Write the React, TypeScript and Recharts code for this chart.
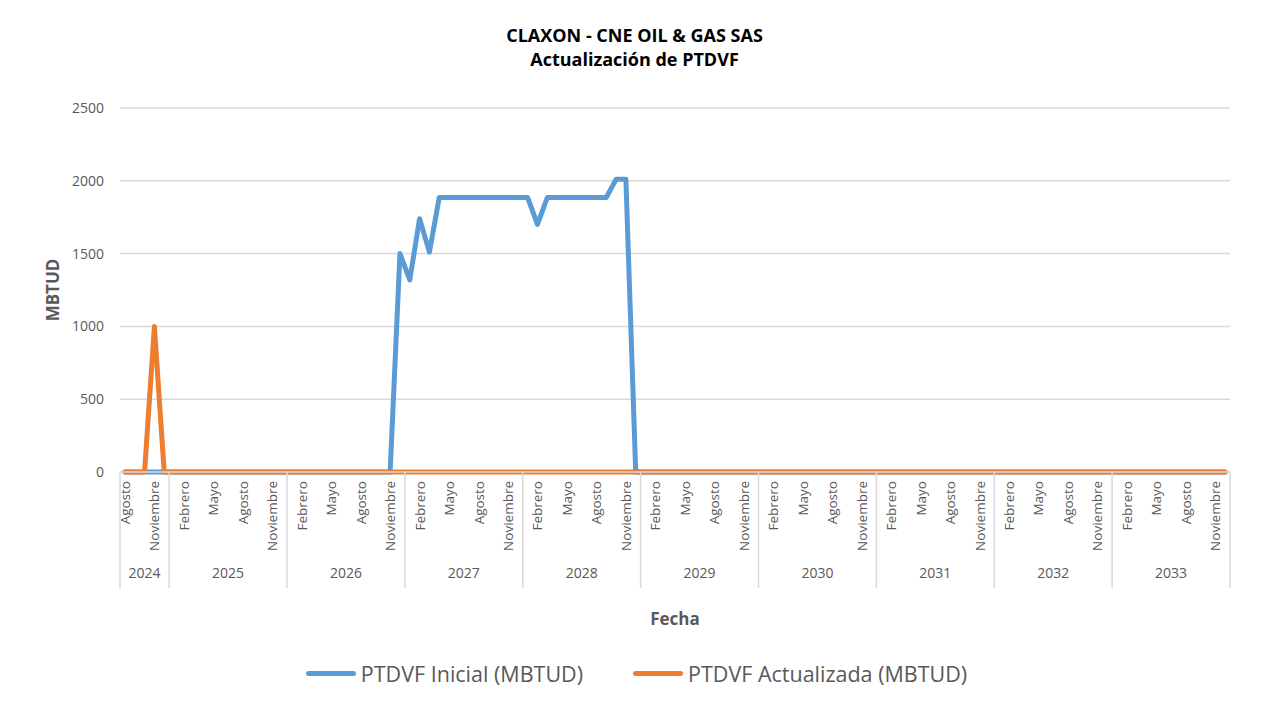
import { LineChart, Line, XAxis, YAxis, CartesianGrid } from 'recharts';

// Meses (en español) y años del eje X: agosto 2024 – diciembre 2033
const MONTHS = [
  'Enero', 'Febrero', 'Marzo', 'Abril', 'Mayo', 'Junio',
  'Julio', 'Agosto', 'Septiembre', 'Octubre', 'Noviembre', 'Diciembre',
];
const YEARS = [2024, 2025, 2026, 2027, 2028, 2029, 2030, 2031, 2032, 2033];
const FIRST_MONTH_2024 = 7; // Agosto
const LABELED_MONTHS = ['Febrero', 'Mayo', 'Agosto', 'Noviembre'];

// PTDVF Inicial (MBTUD)
const INICIAL = [
  // 2024 (Ago-Dic)
  0, 0, 0, 0, 0,
  // 2025
  0, 0, 0, 0, 0, 0, 0, 0, 0, 0, 0, 0,
  // 2026
  0, 0, 0, 0, 0, 0, 0, 0, 0, 0, 0, 1500,
  // 2027
  1320, 1740, 1510, 1885, 1885, 1885, 1885, 1885, 1885, 1885, 1885, 1885,
  // 2028
  1885, 1700, 1885, 1885, 1885, 1885, 1885, 1885, 1885, 2010, 2010, 0,
  // 2029
  0, 0, 0, 0, 0, 0, 0, 0, 0, 0, 0, 0,
  // 2030
  0, 0, 0, 0, 0, 0, 0, 0, 0, 0, 0, 0,
  // 2031
  0, 0, 0, 0, 0, 0, 0, 0, 0, 0, 0, 0,
  // 2032
  0, 0, 0, 0, 0, 0, 0, 0, 0, 0, 0, 0,
  // 2033
  0, 0, 0, 0, 0, 0, 0, 0, 0, 0, 0, 0,
];

// PTDVF Actualizada (MBTUD)
const ACTUALIZADA = [
  // 2024 (Ago-Dic)
  0, 0, 0, 1000, 0,
  // 2025
  0, 0, 0, 0, 0, 0, 0, 0, 0, 0, 0, 0,
  // 2026
  0, 0, 0, 0, 0, 0, 0, 0, 0, 0, 0, 0,
  // 2027
  0, 0, 0, 0, 0, 0, 0, 0, 0, 0, 0, 0,
  // 2028
  0, 0, 0, 0, 0, 0, 0, 0, 0, 0, 0, 0,
  // 2029
  0, 0, 0, 0, 0, 0, 0, 0, 0, 0, 0, 0,
  // 2030
  0, 0, 0, 0, 0, 0, 0, 0, 0, 0, 0, 0,
  // 2031
  0, 0, 0, 0, 0, 0, 0, 0, 0, 0, 0, 0,
  // 2032
  0, 0, 0, 0, 0, 0, 0, 0, 0, 0, 0, 0,
  // 2033
  0, 0, 0, 0, 0, 0, 0, 0, 0, 0, 0, 0,
];

const Y_TICKS = [0, 500, 1000, 1500, 2000, 2500];

const SERIES = [
  { dataKey: 'inicial', label: 'PTDVF Inicial (MBTUD)', color: '#5b9bd5' },
  { dataKey: 'actualizada', label: 'PTDVF Actualizada (MBTUD)', color: '#ed7d31' },
];

interface Row {
  key: string;
  year: number;
  month: string;
  inicial: number;
  actualizada: number;
}

const data: Row[] = [];
YEARS.forEach((year) => {
  const start = year === 2024 ? FIRST_MONTH_2024 : 0;
  for (let m = start; m < 12; m++) {
    const i = data.length;
    data.push({
      key: `${year}-${m + 1}`,
      year,
      month: MONTHS[m],
      inicial: INICIAL[i],
      actualizada: ACTUALIZADA[i],
    });
  }
});

const W = 1261;
const H = 711;
const PLOT_LEFT = 120;
const PLOT_RIGHT = 1230;
const PLOT_TOP = 108;
const PLOT_BOTTOM = 472;
const BAND = (PLOT_RIGHT - PLOT_LEFT) / data.length;
const FONT = '"Open Sans", "Noto Sans", sans-serif';
const TEXT = '#595959';
const GRID = '#d9d9d9';

// etiqueta de dos niveles: mes rotado + año con separadores
// eslint-disable-next-line @typescript-eslint/no-explicit-any
function CategoryTick(props: any) {
  const { x, y, index } = props;
  const d = data[index];
  if (!d) return null;
  const prev = data[index - 1];
  const firstOfYear = !prev || prev.year !== d.year;
  const isLast = index === data.length - 1;
  let yearCenter = x;
  if (firstOfYear) {
    const lastIdx = data.reduce((acc, r, i) => (r.year === d.year ? i : acc), index);
    yearCenter = x + ((index + lastIdx) / 2 - index) * BAND;
  }
  return (
    <g>
      {LABELED_MONTHS.includes(d.month) && (
        <text
          x={x}
          y={y + 9}
          transform={`rotate(-90, ${x}, ${y + 9})`}
          textAnchor="end"
          dominantBaseline="central"
          fontSize={13.5}
          fontFamily={FONT}
          fill={TEXT}
        >
          {d.month}
        </text>
      )}
      {firstOfYear && (
        <line x1={x - BAND / 2} x2={x - BAND / 2} y1={y} y2={y + 116} stroke={GRID} strokeWidth={1.5} />
      )}
      {isLast && (
        <line x1={x + BAND / 2} x2={x + BAND / 2} y1={y} y2={y + 116} stroke={GRID} strokeWidth={1.5} />
      )}
      {firstOfYear && (
        <text
          x={yearCenter}
          y={y + 106}
          textAnchor="middle"
          fontSize={14}
          fontFamily={FONT}
          fill={TEXT}
        >
          {d.year}
        </text>
      )}
    </g>
  );
}

export default function App() {
  return (
    <div
      style={{
        position: 'relative',
        width: W,
        height: H,
        margin: -8,
        overflow: 'hidden',
        background: '#fff',
        fontFamily: FONT,
      }}
    >
      <div
        style={{
          position: 'absolute',
          left: 5,
          top: 2,
          width: 1253,
          height: 760,
          border: `1px solid ${GRID}`,
        }}
      />
      <div
        style={{
          position: 'absolute',
          top: 23,
          left: 8,
          width: W - 8,
          textAlign: 'center',
          fontWeight: 700,
          fontSize: 18,
          lineHeight: '24px',
          color: '#000',
        }}
      >
        <div>CLAXON - CNE OIL &amp; GAS SAS</div>
        <div>Actualización de PTDVF</div>
      </div>
      <div
        style={{
          position: 'absolute',
          left: 52,
          top: 290,
          transform: 'translate(-50%, -50%) rotate(-90deg)',
          fontWeight: 700,
          fontSize: 17,
          color: TEXT,
          whiteSpace: 'nowrap',
        }}
      >
        MBTUD
      </div>
      <div
        style={{
          position: 'absolute',
          left: 675,
          top: 618,
          transform: 'translate(-50%, -50%)',
          fontWeight: 700,
          fontSize: 17,
          color: TEXT,
        }}
      >
        Fecha
      </div>
      <div style={{ position: 'absolute', left: 0, top: 0 }}>
        <LineChart
          width={W}
          height={H}
          data={data}
          margin={{ top: PLOT_TOP, right: W - PLOT_RIGHT, bottom: 0, left: 0 }}
        >
          <CartesianGrid vertical={false} stroke={GRID} strokeWidth={1.5} />
          <XAxis
            dataKey="key"
            interval={0}
            padding={{ left: BAND / 2, right: BAND / 2 }}
            tickLine={false}
            tickSize={0}
            tickMargin={0}
            axisLine={{ stroke: GRID, strokeWidth: 1.5 }}
            tick={<CategoryTick />}
            height={H - PLOT_BOTTOM}
          />
          <YAxis
            width={PLOT_LEFT}
            domain={[0, 2500]}
            ticks={Y_TICKS}
            interval={0}
            axisLine={false}
            tickLine={false}
            tickSize={0}
            tickMargin={16}
            tick={{ fontSize: 14, fill: TEXT, fontFamily: FONT }}
          />
          {SERIES.map((s) => (
            <Line
              key={s.dataKey}
              type="linear"
              dataKey={s.dataKey}
              name={s.label}
              stroke={s.color}
              strokeWidth={5}
              strokeLinecap="round"
              strokeLinejoin="round"
              dot={false}
              activeDot={false}
              isAnimationActive={false}
            />
          ))}
        </LineChart>
      </div>
      {/* leyenda */}
      <div
        style={{
          position: 'absolute',
          top: 659,
          left: 10,
          width: W - 8,
          display: 'flex',
          justifyContent: 'center',
          gap: 50,
        }}
      >
        {SERIES.map((s) => (
          <div key={s.dataKey} style={{ display: 'flex', alignItems: 'center' }}>
            <span
              style={{
                display: 'inline-block',
                width: 50,
                height: 5,
                borderRadius: 3,
                background: s.color,
                marginRight: 5,
              }}
            />
            <span style={{ fontSize: 21.5, color: TEXT }}>{s.label}</span>
          </div>
        ))}
      </div>
    </div>
  );
}
